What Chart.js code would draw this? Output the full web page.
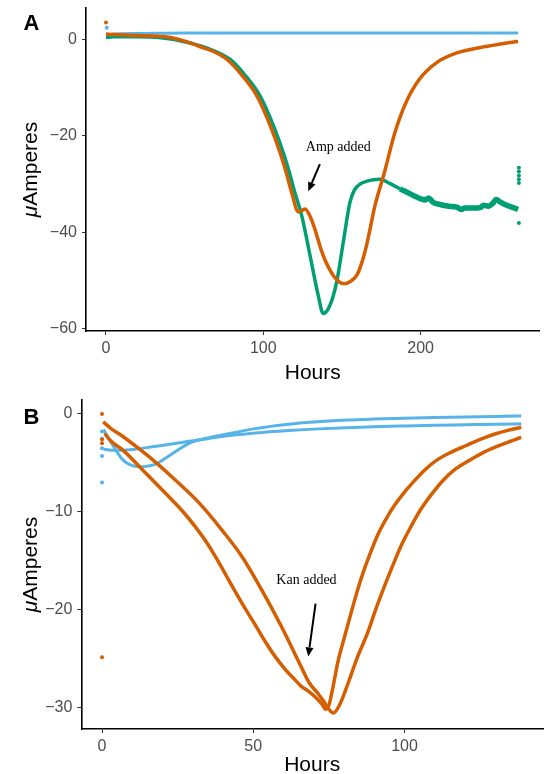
<!DOCTYPE html>
<html>
<head>
<meta charset="utf-8">
<script src="https://cdn.jsdelivr.net/npm/chart.js@4.4.1/dist/chart.umd.min.js"></script>
<style>
  html, body { margin: 0; padding: 0; background: #fff; }
  body { width: 547px; height: 774px; position: relative; overflow: hidden; }
  canvas { position: absolute; left: 0; }
  #panelA { top: 0; }
  #panelB { top: 387px; }
</style>
</head>
<body>
<canvas id="panelA" width="547" height="387"></canvas>
<canvas id="panelB" width="547" height="387"></canvas>
<script>
// ---- Panel A (ampicillin) ----
const hoursA_blue = [0.5, 5, 20, 50, 100, 150, 200, 230, 262];
const ampsA_blue  = [0.9, 1.2, 1.3, 1.4, 1.4, 1.4, 1.4, 1.4, 1.4];

const hoursA_orange = [0, 5, 20, 40, 50, 62, 70, 77, 87, 96, 102, 108.5, 114, 118, 122.3, 124.5, 126.5, 129,
  132, 138, 144.5, 149, 152, 155, 159.4, 162.5, 165.7, 171, 177, 183.5, 190.5, 199, 210, 223, 238, 250.5, 262];
const ampsA_orange  = [1.2, 1.1, 0.9, 0.5, -0.3, -1.7, -2.7, -4.1, -7.6, -11.7, -15.9, -21.4, -26.9, -31.7, -35.8, -35.5, -35.2, -36.2,
  -38.6, -44.8, -49, -50.5, -50.7, -50.3, -49, -46.5, -42.7, -34.5, -27.6, -19.5, -13.2, -8.3, -4.8, -2.75, -1.6, -0.9, -0.35];

const hoursA_green = [0, 5, 20, 35, 50, 64, 79, 89, 98, 104, 110.5, 116, 120, 124.4, 129.7, 134.9, 138.1, 142.4,
  146.7, 150.9, 155.1, 158, 161.5, 166, 170, 174.2, 180, 186.9, 192, 197.5, 203, 205, 208, 213, 218, 223, 226, 228,
  233, 238, 240, 243, 246, 248, 251, 254, 258, 262];
const ampsA_green  = [0.5, 0.6, 0.6, 0.4, -0.4, -1.7, -4.1, -7.6, -11.7, -15.9, -21.4, -26.9, -31.7, -36.5, -44.8, -53.1, -56.9, -55.2,
  -50.3, -42, -33.8, -31.2, -30, -29.4, -29.1, -29, -29.8, -31, -31.8, -32.7, -33.3, -32.9, -33.8, -34.3, -34.6, -34.8, -35.3, -35.0,
  -35.0, -34.9, -34.4, -34.6, -34.0, -33.2, -33.8, -34.3, -34.8, -35.3];

// loose readings at the start and end of the runs
const dotsA_orange_h = [0];      const dotsA_orange_a = [3.6];
const dotsA_blue_h   = [0.5];    const dotsA_blue_a   = [2.5];
const dotsA_green_h  = [262.5, 262.5, 262.5, 262.5, 262.5, 262.5];
const dotsA_green_a  = [-26.6, -27.4, -28.2, -29.0, -29.8, -38.1];

const xTicksA = [0, 100, 200];
const yTicksA = [0, -20, -40, -60];

// ---- Panel B (kanamycin) ----
const hoursB_blue1 = [0.5, 2.6, 6.9, 12.4, 18, 21.1, 28.8, 33.5, 39.7, 50.7, 61.6, 70, 81.2, 90, 100, 110, 120, 130, 138.6];
const ampsB_blue1  = [-1.6, -2.7, -4.7, -5.4, -5.1, -4.5, -3.0, -2.55, -2.15, -1.5, -1.05, -0.82, -0.62, -0.52, -0.43, -0.36, -0.3, -0.25, -0.2];
const hoursB_blue2 = [0.5, 3, 6.9, 17.9, 28.8, 39.7, 50.7, 61.6, 70, 81.2, 90, 100, 110, 120, 130, 138.6];
const ampsB_blue2  = [-3.6, -3.7, -3.7, -3.3, -2.8, -2.3, -1.95, -1.7, -1.55, -1.4, -1.3, -1.22, -1.15, -1.1, -1.05, -1.0];

const hoursB_orange1 = [0.4, 3, 6.9, 12, 16.8, 24.4, 32.1, 39.7, 46.3, 52.8, 59.4, 65.9, 68.5, 71.4, 73.5, 75, 76.5,
  78.5, 81.3, 84.3, 87.8, 90.5, 93.3, 96, 98.7, 102, 105.3, 109, 112.9, 117, 121.7, 126, 130.4, 134.5, 138.6];
const ampsB_orange1  = [-0.8, -1.5, -2.3, -3.5, -4.7, -6.8, -9.1, -11.9, -14.6, -18, -21.8, -25.9, -27.5, -28.6, -29.5, -30.2, -30.6,
  -29.8, -27.6, -25.0, -22.4, -20.0, -17.7, -15.6, -13.6, -11.6, -9.8, -8.2, -6.75, -5.6, -4.7, -3.95, -3.35, -2.85, -2.4];
const hoursB_orange2 = [0.9, 3, 6.9, 14.6, 22.2, 26.5, 31, 34.5, 37.5, 41, 44.1, 47.5, 50.7, 54, 57.2, 60.5, 63.8, 66, 68,
  70.3, 72.5, 74, 75, 76, 78.1, 80, 82.3, 84.5, 86.7, 89, 91.1, 93.8, 96.6, 100, 103.1, 106.8, 110.8, 115.5, 120.6,
  125.5, 130.4, 134.5, 138.6];
const ampsB_orange2  = [-2.0, -2.8, -3.7, -6.1, -8.5, -9.9, -11.6, -13.1, -14.6, -16.5, -18.2, -20.0, -21.6, -23.3, -24.8, -26.1, -27.2, -27.9, -28.3,
  -28.9, -29.6, -30.2, -29.8, -28.5, -25.2, -23.0, -20.4, -18.0, -15.9, -14.0, -12.4, -10.8, -9.4, -8.0, -6.9, -5.7, -4.7, -3.9, -3.2,
  -2.55, -2.0, -1.65, -1.36];

const dotsB_orange_h = [0, 0, 0, 0];        const dotsB_orange_a = [0.0, -2.6, -3.0, -24.9];
const dotsB_blue_h   = [0, 0, 0, 0, 0];     const dotsB_blue_a   = [-1.8, -2.5, -3.5, -4.3, -7.0];

const xTicksB = [0, 50, 100];
const yTicksB = [0, -10, -20, -30];

// notes with arrows, in data units
const noteA = { text: 'Amp added', x: 147.7, y: -23.2, from: [136.0, -25.85], to: [128.6, -31.5] };
const noteB = { text: 'Kan added', x: 67.6, y: -17.4, from: [70.6, -19.4], to: [68.2, -24.8] };

const BLUE = '#56B4E9', ORANGE = '#D55E00', GREEN = '#009E73';
const SANS = '"Liberation Sans", Arial, sans-serif';

const pts = (xs, ys) => xs.map((x, i) => ({ x: x, y: ys[i] }));

function lineSet(xs, ys, color, extra) {
  return Object.assign({
    data: pts(xs, ys), showLine: true, borderColor: color, borderWidth: 3.5,
    pointRadius: 0, cubicInterpolationMode: 'monotone', fill: false
  }, extra || {});
}
function dotSet(xs, ys, color) {
  return { data: pts(xs, ys), showLine: false, pointRadius: 2, backgroundColor: color, borderWidth: 0 };
}

function axis(min, max, ticks, size, isY) {
  return {
    type: 'linear', min: min, max: max,
    afterBuildTicks: s => { s.ticks = ticks.map(v => ({ value: v })); },
    afterFit: s => {
      if (isY) s.width = size; else s.height = size;
      s.paddingTop = s.paddingBottom = s.paddingLeft = s.paddingRight = 0;
    },
    grid: { drawOnChartArea: false, drawTicks: true, tickLength: 4, color: '#333', lineWidth: 1 },
    border: { display: true, color: '#000', width: 1.6 },
    ticks: {
      color: '#4D4D4D', font: { family: SANS, size: 16, lineHeight: 1 },
      padding: isY ? 5 : 6, maxRotation: 0, autoSkip: false,
      callback: v => String(v).replace('-', '\u2212')
    }
  };
}

function arrow(ctx, x0, y0, x1, y1) {
  const ang = Math.atan2(y1 - y0, x1 - x0), head = 9, half = 4;
  const bx = x1 - head * Math.cos(ang), by = y1 - head * Math.sin(ang);
  ctx.lineWidth = 2;
  ctx.strokeStyle = '#000';
  ctx.fillStyle = '#000';
  ctx.beginPath(); ctx.moveTo(x0, y0); ctx.lineTo(bx, by); ctx.stroke();
  ctx.beginPath();
  ctx.moveTo(x1, y1);
  ctx.lineTo(bx + half * Math.sin(ang), by - half * Math.cos(ang));
  ctx.lineTo(bx - half * Math.sin(ang), by + half * Math.cos(ang));
  ctx.closePath(); ctx.fill();
}

// panel letter, axis titles and the note
const decor = {
  id: 'decor',
  afterDraw(chart, args, o) {
    const ctx = chart.ctx, a = chart.chartArea, x = chart.scales.x, y = chart.scales.y;
    ctx.save();
    ctx.fillStyle = '#000';
    ctx.textAlign = 'center';
    ctx.textBaseline = 'middle';
    ctx.font = 'bold 22px ' + SANS;
    ctx.fillText(o.letter, 31.5, o.letterY);

    ctx.textBaseline = 'alphabetic';
    ctx.font = '21px ' + SANS;
    ctx.fillText('Hours', (a.left + a.right) / 2, o.xTitleY);

    ctx.save();
    ctx.translate(o.yTitleX, (a.top + a.bottom) / 2);
    ctx.rotate(-Math.PI / 2);
    ctx.font = 'italic 21px ' + SANS;
    const wMu = ctx.measureText('\u03bc').width;
    ctx.font = '21px ' + SANS;
    const wRest = ctx.measureText('Amperes').width;
    const start = -(wMu + wRest) / 2;
    ctx.textAlign = 'left';
    ctx.font = 'italic 21px ' + SANS;
    ctx.fillText('\u03bc', start, 0);
    ctx.font = '21px ' + SANS;
    ctx.fillText('Amperes', start + wMu, 0);
    ctx.restore();

    const n = o.note;
    ctx.font = '14px "Liberation Serif", "Times New Roman", serif';
    ctx.textAlign = 'center';
    ctx.fillText(n.text, x.getPixelForValue(n.x), y.getPixelForValue(n.y));
    arrow(ctx, x.getPixelForValue(n.from[0]), y.getPixelForValue(n.from[1]),
      x.getPixelForValue(n.to[0]), y.getPixelForValue(n.to[1]));
    ctx.restore();
  }
};

function baseOptions(xs, ys, pad, decorOpts) {
  return {
    responsive: false, animation: false, devicePixelRatio: 1,
    layout: { padding: pad },
    scales: { x: xs, y: ys },
    plugins: { legend: { display: false }, tooltip: { enabled: false }, decor: decorOpts }
  };
}

new Chart(document.getElementById('panelA'), {
  type: 'scatter',
  data: {
    datasets: [
      lineSet(hoursA_orange, ampsA_orange, ORANGE),
      dotSet(dotsA_orange_h, dotsA_orange_a, ORANGE),
      lineSet(hoursA_green, ampsA_green, GREEN, {
        segment: { borderWidth: c => c.p0.parsed.x > 182 ? 5.5 : 3.5 }
      }),
      dotSet(dotsA_green_h, dotsA_green_a, GREEN),
      lineSet(hoursA_blue, ampsA_blue, BLUE, { borderWidth: 3 }),
      dotSet(dotsA_blue_h, dotsA_blue_a, BLUE)
    ]
  },
  options: baseOptions(
    axis(-12.7, 275.6, xTicksA, 56, false),
    axis(-60.55, 6.6, yTicksA, 86, true),
    { top: 8, right: 7.5, left: 0, bottom: 0 },
    { letter: 'A', letterY: 24, xTitleY: 379, yTitleX: 37, note: noteA }
  ),
  plugins: [decor]
});

new Chart(document.getElementById('panelB'), {
  type: 'scatter',
  data: {
    datasets: [
      lineSet(hoursB_orange1, ampsB_orange1, ORANGE),
      lineSet(hoursB_orange2, ampsB_orange2, ORANGE),
      dotSet(dotsB_orange_h, dotsB_orange_a, ORANGE),
      lineSet(hoursB_blue1, ampsB_blue1, BLUE, { borderWidth: 3 }),
      lineSet(hoursB_blue2, ampsB_blue2, BLUE, { borderWidth: 3 }),
      dotSet(dotsB_blue_h, dotsB_blue_a, BLUE)
    ]
  },
  options: baseOptions(
    axis(-6.85, 145.8, xTicksB, 45, false),
    axis(-32.23, 1.43, yTicksB, 81.3, true),
    { top: 13, right: 0, left: 0, bottom: 0 },
    { letter: 'B', letterY: 31, xTitleY: 384, yTitleX: 37, note: noteB }
  ),
  plugins: [decor]
});
</script>
</body>
</html>
